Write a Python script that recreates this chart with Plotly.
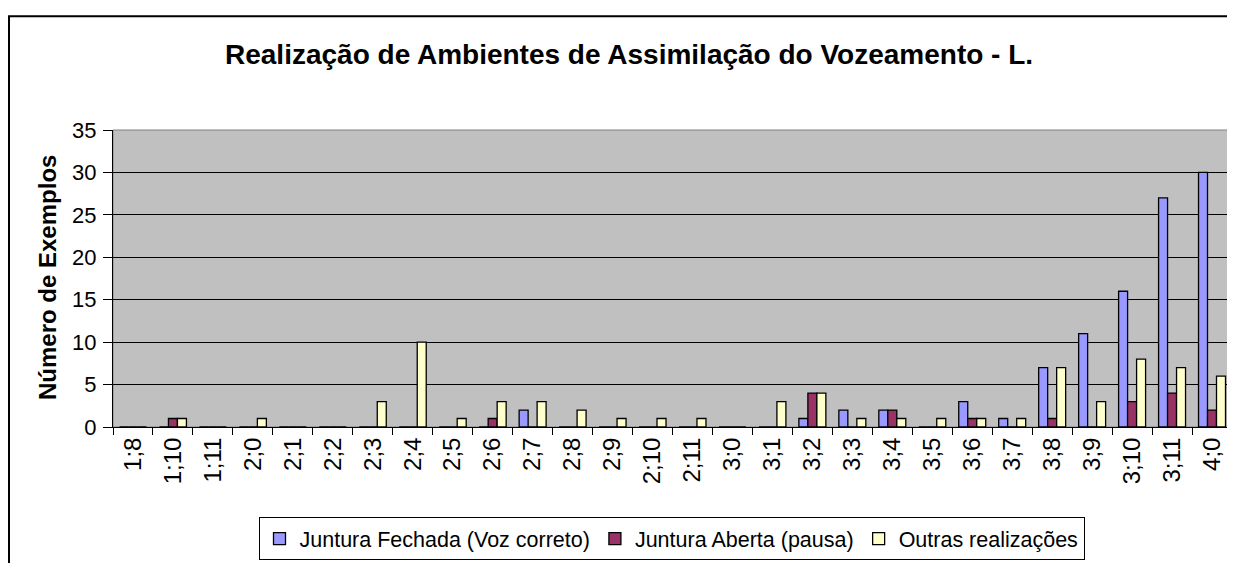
import plotly.graph_objects as go

categories = ["1;8", "1;10", "1;11", "2;0", "2;1", "2;2", "2;3", "2;4", "2;5", "2;6",
              "2;7", "2;8", "2;9", "2;10", "2;11", "3;0", "3;1", "3;2", "3;3", "3;4",
              "3;5", "3;6", "3;7", "3;8", "3;9", "3;10", "3;11", "4;0"]
fechada = [0, 0, 0, 0, 0, 0, 0, 0, 0, 0, 2, 0, 0, 0, 0, 0, 0, 1, 2, 2, 0, 3, 1, 7, 11, 16, 27, 30]
aberta = [0, 1, 0, 0, 0, 0, 0, 0, 0, 1, 0, 0, 0, 0, 0, 0, 0, 4, 0, 2, 0, 1, 0, 1, 0, 3, 4, 2]
outras = [0, 1, 0, 1, 0, 0, 3, 10, 1, 3, 3, 2, 1, 1, 1, 0, 3, 4, 1, 1, 1, 1, 1, 7, 3, 8, 7, 6]
series_names = ["Juntura Fechada (Voz correto)", "Juntura Aberta (pausa)", "Outras realizações"]
colors = ["#9999FF", "#993366", "#FFFFCC"]

FONT = "Arial, Liberation Sans, sans-serif"

fig = go.Figure()
for name, vals, col in zip(series_names, [fechada, aberta, outras], colors):
    fig.add_trace(go.Bar(x=categories, y=vals, name=name,
                         marker=dict(color=col, line=dict(color="black", width=1.3))))

# page is offset by the browser's 8px body margin
OFF = 8
W, H = 1235 - OFF, 563 - OFF
L, R, T, B = 113 - OFF, 3, 130 - OFF, 130
pw, ph = W - L - R, H - T - B

def px(x):
    return (x - OFF - L) / pw

def py(y):
    return (H - B - (y - OFF)) / ph

fig.update_layout(
    width=W, height=H,
    margin=dict(l=L, r=R, t=T, b=B),
    paper_bgcolor="white", plot_bgcolor="#C0C0C0",
    barmode="group", bargap=0.325, bargroupgap=0,
    font=dict(family=FONT, size=21, color="black"),
    showlegend=True,
    legend=dict(orientation="h", x=px(671.5), xanchor="center", y=py(525), yanchor="top",
                bordercolor="black", borderwidth=1, bgcolor="white",
                font=dict(size=21.5), traceorder="normal", itemwidth=30,
                tracegroupgap=0, itemclick=False),
    xaxis=dict(type="category", tickangle=-90, ticks="outside", ticklen=7,
               tickson="boundaries", tickcolor="black", showline=True,
               linecolor="black", linewidth=1, showgrid=False,
               tickfont=dict(size=24)),
    yaxis=dict(range=[0, 35], dtick=5, ticks="outside", ticklen=9, tickcolor="black",
               showline=True, linecolor="black", linewidth=1,
               showgrid=True, gridcolor="black", gridwidth=1,
               zeroline=False, tickfont=dict(size=22), ticklabelstandoff=2),
    shapes=[
        dict(type="rect", xref="paper", yref="paper",
             x0=px(9), x1=px(1260), y0=py(620), y1=py(14),
             line=dict(color="black", width=2), layer="below"),
        dict(type="rect", xref="paper", yref="paper", x0=0, x1=1, y0=0, y1=1,
             line=dict(color="#808080", width=1), layer="below"),
    ],
    annotations=[
        dict(text="<b>Realização de Ambientes de Assimilação do Vozeamento - L.</b>",
             xref="paper", yref="paper", x=px(628.5), y=py(53),
             xanchor="center", yanchor="middle", showarrow=False,
             font=dict(size=28)),
        dict(text="<b>Número de Exemplos</b>", xref="paper", yref="paper",
             x=px(47), y=py(281), xanchor="center", yanchor="middle",
             textangle=-90, showarrow=False, font=dict(size=24)),
    ],
)

fig.write_html("out.html")
